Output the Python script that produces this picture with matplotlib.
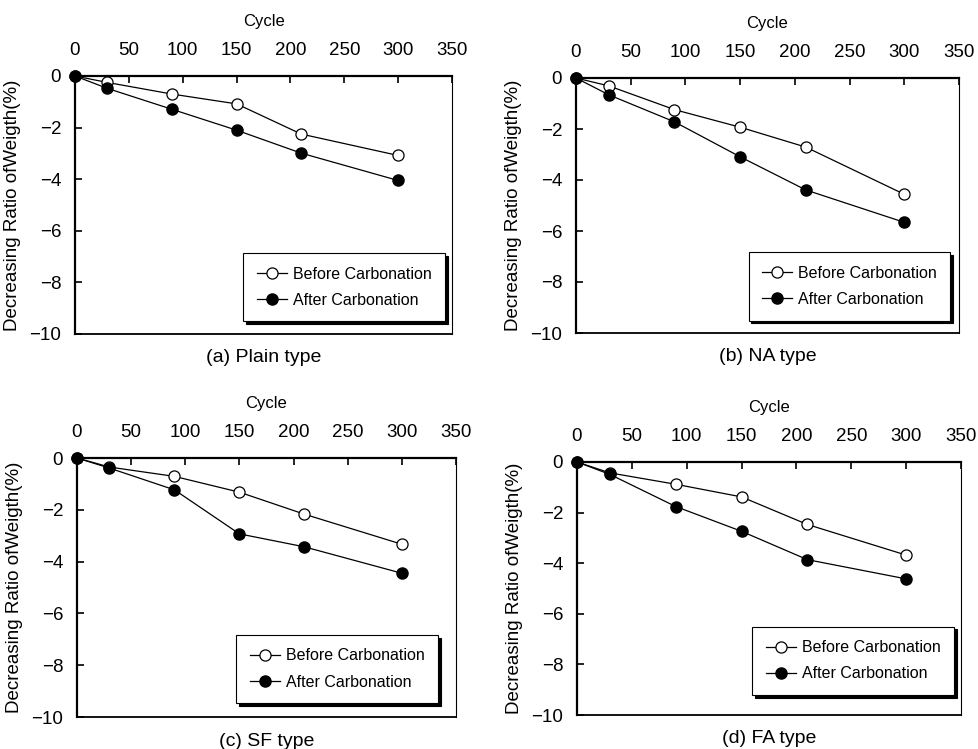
import numpy as np
import matplotlib
matplotlib.use("Agg")
import matplotlib.pyplot as plt

#==========================
# DATA
#==========================
cycles = [0, 30, 90, 150, 210, 300]

plain_before = [0, -0.25, -0.70, -1.08, -2.25, -3.08]
plain_after = [0, -0.48, -1.29, -2.10, -2.99, -4.05]

na_before = [0, -0.31, -1.24, -1.93, -2.71, -4.56]
na_after = [0, -0.66, -1.72, -3.09, -4.39, -5.66]

sf_before = [0, -0.35, -0.71, -1.32, -2.17, -3.33]
sf_after = [0, -0.39, -1.23, -2.93, -3.43, -4.45]

fa_before = [0, -0.43, -0.88, -1.38, -2.47, -3.68]
fa_after = [0, -0.49, -1.76, -2.74, -3.86, -4.62]

captions = ["(a) Plain type", "(b) NA type", "(c) SF type", "(d) FA type"]
xticks = [0, 50, 100, 150, 200, 250, 300, 350]
yticks = [0, -2, -4, -6, -8, -10]
ytick_labels = ["0", "\u22122", "\u22124", "\u22126", "\u22128", "\u221210"]

#==========================
# LAYOUT (pixels in 979x749)
#==========================
W, H = 979, 749
boxes = [(75, 452, 76, 334), (576, 959, 78, 333),
         (77, 456, 458, 717), (577, 961, 462, 715)]
legend_anchor = [(0.995, 0.03), (0.99, 0.03), (0.965, 0.035), (0.995, 0.06)]
series = [(plain_before, plain_after), (na_before, na_after),
          (sf_before, sf_after), (fa_before, fa_after)]

plt.rcParams['font.family'] = ['Liberation Sans', 'DejaVu Sans']

fig = plt.figure(figsize=(W / 100, H / 100), dpi=100)

for k in range(4):
    l, r, t, b = boxes[k]
    ax = fig.add_axes([l / W, 1 - b / H, (r - l) / W, (b - t) / H])
    before, after = series[k]
    ax.plot(cycles, before, '-o', color='k', mfc='white', mec='k', ms=8,
            lw=0.9, mew=0.9, label='Before Carbonation', zorder=4,
            clip_on=False)
    ax.plot(cycles, after, '-o', color='k', mfc='k', mec='k', ms=8,
            lw=0.9, label='After Carbonation', zorder=5, clip_on=False)
    ax.set_xlim(0, 350)
    ax.set_ylim(-10, 0)
    ax.set_xticks(xticks)
    ax.set_yticks(yticks)
    ax.set_yticklabels(ytick_labels)
    ax.xaxis.tick_top()
    ax.xaxis.set_label_position('top')
    ax.tick_params(axis='x', direction='in', top=True, bottom=False,
                   labelsize=13.5, length=5, width=1.2, pad=12)
    ax.tick_params(axis='y', direction='in', left=True, right=False,
                   labelsize=13.5, length=5, width=1.2, pad=10)
    ax.spines['top'].set_linewidth(1.6)
    ax.spines['left'].set_linewidth(1.6)
    ax.spines['right'].set_linewidth(0.8)
    ax.spines['bottom'].set_linewidth(1.3)
    ax.set_xlabel("Cycle", fontsize=12, labelpad=12)
    ax.set_ylabel("Decreasing Ratio ofWeigth(%)", fontsize=13.5, labelpad=6)
    ax.text(0.5, -0.06, captions[k], transform=ax.transAxes, ha='center',
            va='top', fontsize=14)
    leg = ax.legend(loc='lower right', bbox_to_anchor=legend_anchor[k],
                    fontsize=11.5, frameon=True, fancybox=False,
                    shadow={'color': 'k', 'alpha': 1}, edgecolor='k',
                    handlelength=1.9, handletextpad=0.35, borderpad=0.85,
                    labelspacing=0.7, borderaxespad=0.3)
    leg.get_frame().set_linewidth(0.8)

fig.savefig("out.png", dpi=100)
